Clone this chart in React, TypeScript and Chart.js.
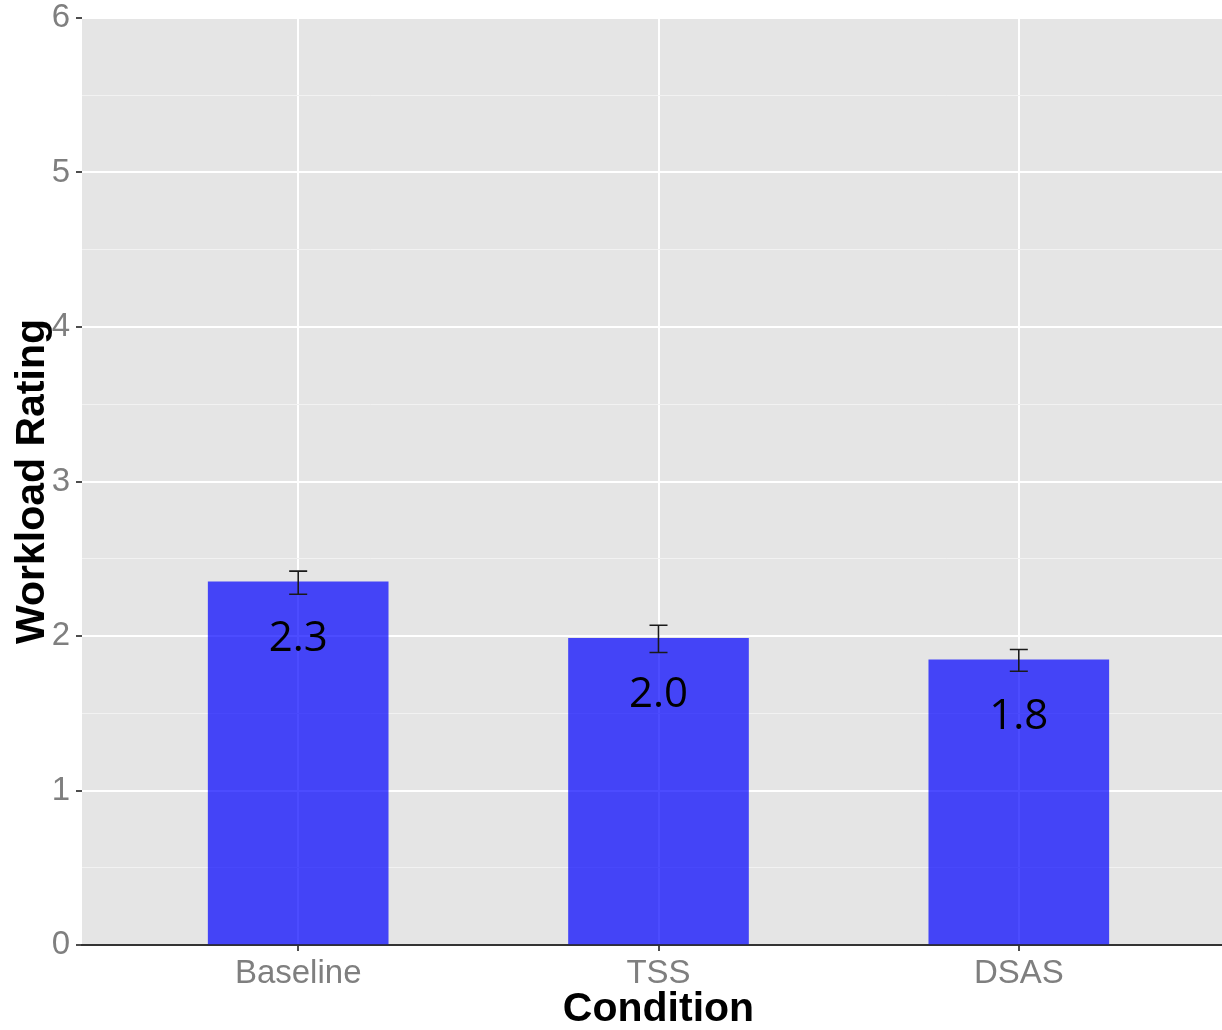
import React, { useEffect, useRef } from "react";
import { Chart, registerables } from "chart.js";

Chart.register(...registerables);

const categories = ["Baseline", "TSS", "DSAS"];
const meanValues = [2.351, 1.985, 1.845];
const errLow = [2.27, 1.893, 1.772];
const errHigh = [2.42, 2.07, 1.913];
const valueLabels = ["2.3", "2.0", "1.8"];
const yTicks = [0, 1, 2, 3, 4, 5, 6];

const panelPlugin = {
  id: "panelBg",
  beforeDraw(chart: any) {
    const { ctx, chartArea, width, height } = chart;
    ctx.save();
    ctx.fillStyle = "#ffffff";
    ctx.fillRect(0, 0, width, height);
    ctx.fillStyle = "#e5e5e5";
    ctx.fillRect(chartArea.left, chartArea.top, chartArea.right - chartArea.left, chartArea.bottom - chartArea.top);
    ctx.restore();
  },
};

const annotatePlugin = {
  id: "annotate",
  afterDatasetsDraw(chart: any) {
    const { ctx } = chart;
    const xs = chart.scales.x;
    const ys = chart.scales.y;
    ctx.save();
    ctx.strokeStyle = "#1a1a1a";
    ctx.lineWidth = 1.6;
    categories.forEach((_, i) => {
      const px = xs.getPixelForValue(i + 1);
      const pLo = ys.getPixelForValue(errLow[i]);
      const pHi = ys.getPixelForValue(errHigh[i]);
      ctx.beginPath();
      ctx.moveTo(px, pLo);
      ctx.lineTo(px, pHi);
      ctx.moveTo(px - 9, pHi);
      ctx.lineTo(px + 9, pHi);
      ctx.moveTo(px - 9, pLo);
      ctx.lineTo(px + 9, pLo);
      ctx.stroke();
    });
    ctx.fillStyle = "#000000";
    ctx.font = '42px "Open Sans"';
    ctx.textAlign = "center";
    ctx.textBaseline = "middle";
    categories.forEach((_, i) => {
      const px = xs.getPixelForValue(i + 1);
      const top = ys.getPixelForValue(meanValues[i]);
      ctx.fillText(valueLabels[i], px, top + 57);
    });
    ctx.restore();
  },
};

export default function App() {
  const canvasRef = useRef<HTMLCanvasElement | null>(null);

  useEffect(() => {
    document.body.style.margin = "0";
    document.body.style.overflow = "hidden";
    const canvas = canvasRef.current;
    if (!canvas) return;
    const isInt = (v: number) => Math.abs(v - Math.round(v)) < 1e-6;
    const chart = new Chart(canvas, {
      type: "bar",
      data: {
        datasets: [
          {
            label: "Workload Rating",
            data: categories.map((_, i) => ({ x: i + 1, y: meanValues[i] })),
            backgroundColor: "rgba(0, 0, 255, 0.7)",
            borderWidth: 0,
            barThickness: 180,
            grouped: false,
          } as any,
        ],
      },
      options: {
        animation: false,
        responsive: false,
        maintainAspectRatio: false,
        layout: { padding: { top: 18, right: 0, left: 0, bottom: 0 } },
        plugins: {
          legend: { display: false },
          tooltip: { enabled: false },
        },
        scales: {
          x: {
            type: "linear",
            min: 0.4,
            max: 3.6,
            offset: false,
            afterBuildTicks: (axis: any) => {
              axis.ticks = categories.map((_, i) => ({ value: i + 1 }));
            },
            afterFit: (scale: any) => {
              scale.height = 85;
            },
            ticks: {
              callback: (v: any) => categories[Number(v) - 1] ?? "",
              font: { family: '"Liberation Sans", Arial, sans-serif', size: 33, lineHeight: 1 },
              color: "#7f7f7f",
              padding: 6,
              maxRotation: 0,
              autoSkip: false,
            },
            grid: {
              offset: false,
              color: "#ffffff",
              lineWidth: 2,
              tickColor: "#4d4d4d",
              tickLength: 6,
              tickWidth: 2,
            },
            border: { display: true, color: "#333333", width: 2 },
            title: {
              display: true,
              text: "Condition",
              color: "#000000",
              font: { family: '"Liberation Sans", Arial, sans-serif', size: 41, weight: "bold", lineHeight: 1 },
              padding: { top: 0, bottom: 0 },
            },
          },
          y: {
            type: "linear",
            min: 0,
            max: 6,
            afterBuildTicks: (axis: any) => {
              const t: any[] = [];
              yTicks.forEach((v, i) => {
                t.push({ value: v });
                if (i < yTicks.length - 1) t.push({ value: v + 0.5 });
              });
              axis.ticks = t;
            },
            afterFit: (scale: any) => {
              scale.width = 82;
            },
            ticks: {
              callback: (v: any) => (isInt(Number(v)) ? String(v) : ""),
              font: { family: '"Liberation Sans", Arial, sans-serif', size: 33, lineHeight: 0.7 },
              color: "#7f7f7f",
              padding: 6,
              autoSkip: false,
            },
            grid: {
              color: (c: any) => (isInt(c.tick?.value ?? 0) ? "#ffffff" : "#f2f2f2"),
              lineWidth: (c: any) => (isInt(c.tick?.value ?? 0) ? 2 : 1),
              tickColor: (c: any) => (isInt(c.tick?.value ?? 0) ? "#4d4d4d" : "rgba(0,0,0,0)"),
              tickLength: 6,
              tickWidth: 2,
            },
            border: { display: false },
            title: {
              display: true,
              text: "Workload Rating",
              color: "#000000",
              font: { family: '"Liberation Sans", Arial, sans-serif', size: 41, weight: "bold", lineHeight: 1 },
              padding: { top: 12, bottom: 0 },
            },
          },
        },
      },
      plugins: [panelPlugin, annotatePlugin],
    });
    return () => chart.destroy();
  }, []);

  return (
    <div style={{ width: 1222, height: 1030, position: "relative", overflow: "hidden" }}>
      <canvas ref={canvasRef} width={1235} height={1030} style={{ display: "block" }} />
    </div>
  );
}
